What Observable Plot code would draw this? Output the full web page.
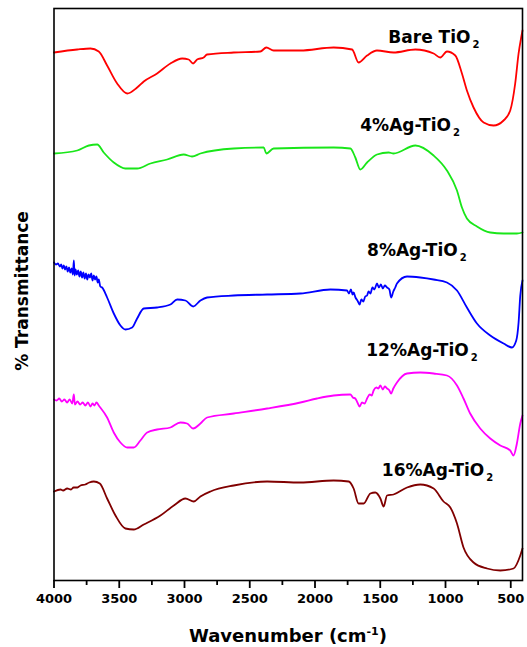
<!DOCTYPE html>
<html><head><meta charset="utf-8">
<script src="https://cdn.jsdelivr.net/npm/d3@7"></script>
<script src="https://cdn.jsdelivr.net/npm/@observablehq/plot@0.6"></script>
<style>body{margin:0;background:#fff}</style>
</head><body><div id="chart"></div>
<script>
// Wavenumber (cm-1), transmittance (arbitrary offset units)
const bareTiO2 = [[4000,528],[3822,531],[3720,532],[3657,529],[3593,515],[3516,497],[3439,487],[3363,493],[3312,499],[3210,507],[3108,517],[3018,522],[2968,521],[2934,517],[2903,521],[2853,523],[2827,526],[2623,528],[2419,529],[2373,533],[2317,530],[2112,530],[1857,533],[1716,531],[1666,518],[1601,525],[1525,530],[1398,528],[1231,531],[1091,527],[1040,523],[989,529],[925,525],[874,507],[836,490],[785,473],[708,458],[632,455],[555,460],[504,470],[466,497],[440,527],[420,543],[410,550]];
const ag4 = [[4000,427],[3822,430],[3733,435],[3669,436],[3619,428],[3542,418],[3453,412],[3363,412],[3261,417],[3133,421],[3006,426],[2942,424],[2878,427],[2623,432],[2393,433],[2373,427],[2317,432],[1857,433],[1729,432],[1691,423],[1653,411],[1601,418],[1525,426],[1436,428],[1398,427],[1231,435],[1091,425],[989,410],[912,390],[874,373],[836,362],[759,354],[657,348],[555,347],[453,347],[410,348]];
const ag8 = [[4000,318],[3985,316],[3970,317],[3955,314],[3945,316],[3935,312],[3925,315],[3915,311],[3905,314],[3895,309],[3885,313],[3875,308],[3865,312],[3855,306],[3848,320],[3842,305],[3835,311],[3825,306],[3815,310],[3805,304],[3795,309],[3785,303],[3775,308],[3765,302],[3755,307],[3745,301],[3735,306],[3725,303],[3715,307],[3705,300],[3695,305],[3685,301],[3675,304],[3665,298],[3657,301],[3645,294],[3631,293],[3593,283],[3542,267],[3491,255],[3453,251],[3401,253],[3363,262],[3312,272],[3210,273],[3108,276],[3056,281],[2993,280],[2934,274],[2878,280],[2827,283],[2623,285],[2367,286],[2112,287],[1882,291],[1755,290],[1740,287],[1725,291],[1712,286],[1704,288],[1690,283],[1675,280],[1658,276],[1645,281],[1630,279],[1615,284],[1601,285],[1590,289],[1575,287],[1560,293],[1545,291],[1525,297],[1510,293],[1495,296],[1480,292],[1465,295],[1448,293],[1430,291],[1417,283],[1400,289],[1385,293],[1372,297],[1295,304],[1193,303],[1091,301],[989,298],[912,290],[836,273],[759,257],[657,245],[555,237],[491,233],[458,240],[440,258],[427,285],[410,300]];
const ag12 = [[4000,181],[3980,180],[3960,182],[3940,179],[3920,181],[3900,178],[3880,181],[3860,177],[3848,186],[3840,176],[3820,179],[3800,176],[3780,178],[3760,175],[3740,178],[3720,174],[3705,177],[3690,175],[3675,178],[3657,175],[3593,163],[3542,148],[3491,138],[3439,133],[3389,133],[3338,140],[3286,148],[3210,151],[3108,153],[3031,158],[2980,157],[2934,152],[2878,157],[2827,163],[2623,167],[2367,172],[2112,178],[1984,182],[1857,185],[1729,186],[1710,183],[1691,182],[1675,178],[1658,174],[1640,178],[1620,177],[1601,182],[1580,186],[1565,185],[1551,190],[1530,193],[1515,192],[1499,195],[1480,191],[1465,194],[1448,192],[1430,190],[1417,187],[1400,192],[1372,198],[1295,207],[1193,208],[1091,207],[989,205],[912,195],[862,182],[811,167],[734,152],[657,142],[580,135],[504,130],[479,125],[453,137],[427,157],[410,165]];
const ag16 = [[4000,89],[3950,91],[3930,90],[3899,92],[3870,91],[3850,93],[3820,93],[3797,95],[3760,96],[3730,98],[3695,99],[3649,97],[3593,82],[3529,65],[3453,52],[3389,51],[3312,56],[3184,65],[3082,75],[2993,82],[2929,79],[2878,84],[2801,89],[2623,95],[2367,99],[2112,98],[1857,100],[1742,99],[1704,92],[1666,77],[1627,77],[1576,87],[1538,88],[1499,82],[1474,74],[1448,85],[1398,86],[1295,93],[1193,96],[1091,92],[1015,79],[963,73],[912,57],[862,33],[785,18],[682,12],[580,10],[479,12],[427,25],[410,32]];

const seriesNames = ["Bare TiO2","4%Ag-TiO2","8%Ag-TiO2","12%Ag-TiO2","16%Ag-TiO2"];
const seriesData = [bareTiO2, ag4, ag8, ag12, ag16];
const seriesColors = ["#ff0000","#19e619","#0000ff","#ff00ff","#800000"];
// label anchor (wavenumber, transmittance) for each series name
const labelW = [1438,1653,1601,1607,1488];
const labelT = [538,450,325,225,105];
const majorTicks = [4000,3500,3000,2500,2000,1500,1000,500];
const minorTicks = [3750,3250,2750,2250,1750,1250,750];

const rows = seriesData.flatMap((d,i)=>d.map(([w,t])=>({w,t,name:seriesNames[i]})));
const labels = seriesNames.map((n,i)=>({name:n, w:labelW[i], t:labelT[i]}));

const chart = Plot.plot({
  width:527, height:647,
  marginLeft:53.5, marginRight:5, marginTop:8, marginBottom:67,
  style:{fontFamily:"'DejaVu Sans', sans-serif", fontWeight:"bold", fontSize:"13px", color:"#000", background:"#fff"},
  x:{domain:[4000,410]},
  y:{domain:[0,572], axis:null},
  color:{domain:seriesNames, range:seriesColors},
  marks:[
    Plot.line(rows,{x:"w",y:"t",z:"name",stroke:"name",strokeWidth:1.8,curve:"monotone-x"}),
    Plot.frame({stroke:"#000",strokeWidth:1.6}),
    Plot.axisX({ticks:majorTicks, tickSize:8, tickPadding:5, strokeWidth:1.8, tickFormat:d=>String(d), label:null, fontSize:13, fontWeight:"bold"}),
    Plot.axisX({ticks:minorTicks, tickSize:5, strokeWidth:1.8, tickFormat:()=>"", label:null}),
    Plot.text(labels,{x:"w",y:"t",text:"name",textAnchor:"start",lineAnchor:"bottom",fontSize:17,fontWeight:"bold",fill:"#000"})
  ]
});
document.getElementById("chart").append(chart);

const svg = d3.select(chart);
const labelSet = new Set(seriesNames);
svg.selectAll("text").filter(function(){ return labelSet.has(this.textContent); }).each(function(){
  const t = d3.select(this);
  const s = this.textContent;
  t.text("");
  t.append("tspan").text(s.slice(0,-1));
  t.append("tspan").attr("dx",2).attr("dy",5).attr("font-size",10).text(s.slice(-1));
});
const xt = svg.append("text").attr("x",288).attr("y",642).attr("text-anchor","middle")
  .attr("font-family","'DejaVu Sans', sans-serif").attr("font-weight","bold").attr("font-size",18).attr("fill","#000");
xt.append("tspan").text("Wavenumber (cm");
xt.append("tspan").attr("dy",-7).attr("font-size",11).text("-1");
xt.append("tspan").attr("dy",7).text(")");
svg.append("text").attr("transform","translate(28,291) rotate(-90)").attr("text-anchor","middle")
  .attr("font-family","'DejaVu Sans', sans-serif").attr("font-weight","bold").attr("font-size",17).attr("fill","#000")
  .text("% Transmittance");
</script></body></html>
